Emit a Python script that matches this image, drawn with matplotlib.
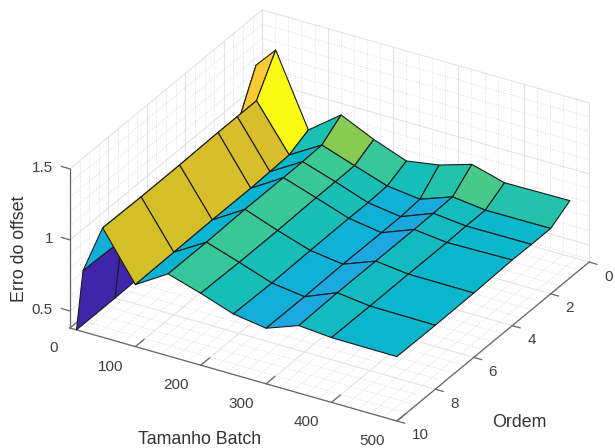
import numpy as np
import matplotlib
matplotlib.use("Agg")
import matplotlib.pyplot as plt
from matplotlib.colors import LinearSegmentedColormap
from mpl_toolkits.mplot3d import proj3d

plt.rcParams['font.family'] = ['Liberation Sans', 'DejaVu Sans']

batch = [10, 20, 50, 100, 150, 200, 250, 300, 350, 400, 500]
ordem = [1, 2, 3, 4, 6, 8, 10]

erro_o1 = [0.50, 1.25, 1.395, 0.898, 1.069, 0.962, 0.876, 0.913, 0.983, 0.919, 0.924]
erro_o2 = [0.42, 0.93, 1.150, 0.834, 0.969, 0.889, 0.812, 0.784, 0.866, 0.838, 0.840]
erro_o3 = [0.40, 0.87, 1.150, 0.828, 0.964, 0.888, 0.806, 0.773, 0.862, 0.838, 0.840]
erro_o4 = [0.39, 0.85, 1.150, 0.823, 0.963, 0.887, 0.808, 0.772, 0.860, 0.834, 0.842]
erro_o6 = [0.385, 0.82, 1.145, 0.824, 0.964, 0.880, 0.805, 0.774, 0.861, 0.835, 0.833]
erro_o8 = [0.38, 0.80, 1.144, 0.820, 0.956, 0.880, 0.800, 0.769, 0.862, 0.834, 0.830]
erro_o10 = [0.38, 0.81, 1.150, 0.816, 0.957, 0.886, 0.806, 0.771, 0.855, 0.836, 0.833]

xticks = [0, 100, 200, 300, 400, 500]
yticks = [0, 2, 4, 6, 8, 10]
zticks = [0.5, 1, 1.5]
zticklabels = ['0.5', '1', '1.5']

parula = LinearSegmentedColormap.from_list('parula', [
    (0.2422, 0.1504, 0.6603), (0.2706, 0.2147, 0.8364), (0.2813, 0.3006, 0.9414),
    (0.2699, 0.3892, 0.9906), (0.1963, 0.4847, 0.9892), (0.1687, 0.5703, 0.9359),
    (0.1248, 0.6459, 0.8883), (0.0297, 0.7082, 0.8163), (0.0964, 0.7500, 0.7120),
    (0.1938, 0.7758, 0.6251), (0.3406, 0.8008, 0.4789), (0.5616, 0.7942, 0.3045),
    (0.8203, 0.7498, 0.1535), (0.9728, 0.7298, 0.2394), (0.9892, 0.8136, 0.1885),
    (0.9628, 0.9373, 0.1265), (0.9769, 0.9839, 0.0805)])

X, Y = np.meshgrid(batch, ordem)
Z = np.array([erro_o1, erro_o2, erro_o3, erro_o4, erro_o6, erro_o8, erro_o10])
cores = parula((Z - Z.min()) / (Z.max() - Z.min()))

xlim = (0, 500)
ylim = (10, 0)
zlim = (0.38, 1.5)

S = 640
fig = plt.figure(figsize=(6.15, 4.48), dpi=100)
ax = fig.add_axes([(323.5 - 2.6 - S / 2) / 615, (226.5 - 2.6 - S / 2) / 448, S / 615, S / 448],
                  projection='3d', proj_type='ortho', computed_zorder=False)
ax.view_init(elev=29, azim=-59.6)
ax.set_box_aspect((379, 380, 182), zoom=1.228 * 448 / S)
ax.set_xlim(*xlim)
ax.set_ylim(*ylim)
ax.set_zlim(*zlim)
ax.set_axis_off()


def rotulo(x, y, z, s, **kw):
    # texto 2D na posicao projetada do ponto 3D
    px, py, _ = proj3d.proj_transform(x, y, z, ax.get_proj())
    ax.text2D(px, py, s, transform=ax.transData, **kw)


# grade desenhada a mao nas paredes
maj = dict(color='#e3e3e3', lw=0.8, zorder=1)
mnr = dict(color='#c4c4c4', lw=0.5, ls=(0, (1, 2.5)), zorder=1)
for v in np.arange(0, 501, 20):
    st = maj if v % 100 == 0 else mnr
    ax.plot([v, v], [10, 0], [zlim[0]] * 2, **st)
    ax.plot([v, v], [0, 0], zlim, **st)
for v in np.arange(0, 10.01, 0.5):
    st = maj if v % 2 == 0 else mnr
    ax.plot([0, 500], [v, v], [zlim[0]] * 2, **st)
    ax.plot([0, 0], [v, v], zlim, **st)
for v in np.arange(0.4, 1.51, 0.1):
    st = maj if round(v * 10) % 5 == 0 else mnr
    ax.plot([0, 0], [10, 0], [v, v], **st)
    ax.plot([0, 500], [0, 0], [v, v], **st)

# eixos e marcas
eixo = dict(color='#666666', lw=0.9, zorder=2)
ax.plot(xlim, [10, 10], [zlim[0]] * 2, **eixo)
ax.plot([500, 500], ylim, [zlim[0]] * 2, **eixo)
ax.plot([0, 0], [10, 10], zlim, **eixo)
tk = dict(fontsize=11, color='#404040', va='center', zorder=5)
for b in xticks:
    ax.plot([b, b], [10, 9.55], [zlim[0]] * 2, **eixo)
    rotulo(b + 14, 11.1, zlim[0], str(b), ha='right', **tk)
for o in yticks:
    ax.plot([500, 512], [o, o], [zlim[0]] * 2, **eixo)
    rotulo(537, o + 0.48, zlim[0], str(o), ha='left', **tk)
for v, s in zip(zticks, zticklabels):
    ax.plot([0, -13], [10, 10], [v, v], **eixo)
    rotulo(-26, 10, v - 0.028, s, ha='right', **tk)

ax.plot_surface(X, Y, Z, facecolors=cores, rstride=1, cstride=1, shade=False,
                edgecolor='#1a1a1a', linewidth=0.8, antialiased=True, zorder=3)

fig.text(200 / 615, 1 - 439 / 448, 'Tamanho Batch', fontsize=12.8, color='#333333', ha='center', va='center')
fig.text(519.5 / 615, 1 - 422 / 448, 'Ordem', fontsize=12.8, color='#333333', ha='center', va='center')
fig.text(20 / 615, 1 - 249 / 448, 'Erro do offset', fontsize=12.8, color='#333333', ha='center', va='center', rotation=90)

fig.savefig('out.png', dpi=100)
